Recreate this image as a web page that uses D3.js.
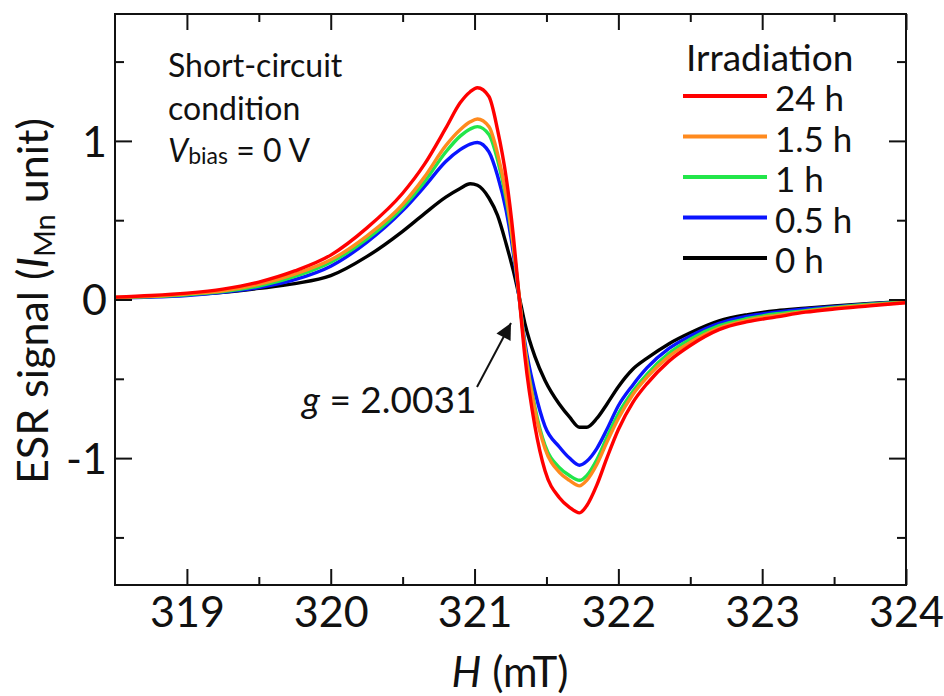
<!DOCTYPE html>
<html>
<head>
<meta charset="utf-8">
<script src="https://cdn.jsdelivr.net/npm/d3@7"></script>
<style>
  html, body { margin: 0; padding: 0; background: #fff; }
  svg { display: block; }
  text { font-family: Lato, "Open Sans", sans-serif; fill: #111; }
</style>
</head>
<body>
<svg id="chart" width="944" height="696"></svg>
<script>
// ---- data ----
const fieldH = [318.5, 318.75, 319.0, 319.25, 319.5, 319.75, 320.0, 320.25, 320.5, 320.65,
                320.8, 320.9, 320.97, 321.02, 321.1, 321.16, 321.22, 321.27, 321.31, 321.35,
                321.42, 321.49, 321.59, 321.66, 321.73, 321.78, 321.85, 321.92, 322.0, 322.1,
                322.2, 322.35, 322.5, 322.7, 322.9, 323.1, 323.3, 323.5, 323.75, 324.0];

const sig24h = [0.015, 0.025, 0.04, 0.065, 0.11, 0.18, 0.28, 0.45, 0.67, 0.85,
                1.08, 1.24, 1.31, 1.335, 1.28, 1.07, 0.77, 0.40, 0.02, -0.36,
                -0.80, -1.08, -1.25, -1.31, -1.345, -1.30, -1.17, -1.00, -0.82, -0.65,
                -0.53, -0.39, -0.29, -0.19, -0.14, -0.11, -0.08, -0.06, -0.04, -0.02];

const sig15h = [0.015, 0.02, 0.035, 0.055, 0.095, 0.16, 0.25, 0.40, 0.60, 0.77,
                0.97, 1.07, 1.12, 1.138, 1.09, 0.92, 0.66, 0.34, 0.02, -0.31,
                -0.70, -0.94, -1.09, -1.14, -1.175, -1.14, -1.04, -0.90, -0.75, -0.60,
                -0.49, -0.36, -0.27, -0.18, -0.13, -0.10, -0.075, -0.055, -0.035, -0.018];

const sig1h  = [0.012, 0.018, 0.03, 0.05, 0.085, 0.145, 0.235, 0.38, 0.58, 0.74,
                0.93, 1.03, 1.075, 1.09, 1.04, 0.88, 0.63, 0.33, 0.02, -0.30,
                -0.68, -0.92, -1.06, -1.11, -1.14, -1.11, -1.01, -0.87, -0.72, -0.58,
                -0.47, -0.34, -0.25, -0.165, -0.12, -0.09, -0.07, -0.05, -0.03, -0.015];

const sig05h = [0.01, 0.015, 0.025, 0.045, 0.075, 0.125, 0.21, 0.36, 0.56, 0.71,
                0.87, 0.945, 0.98, 0.99, 0.93, 0.78, 0.56, 0.29, 0.01, -0.27,
                -0.58, -0.80, -0.93, -1.00, -1.045, -1.02, -0.94, -0.82, -0.67, -0.54,
                -0.43, -0.31, -0.23, -0.15, -0.105, -0.08, -0.06, -0.045, -0.028, -0.013];

const sig0h  = [0.01, 0.018, 0.03, 0.045, 0.07, 0.10, 0.15, 0.27, 0.43, 0.54,
                0.645, 0.70, 0.73, 0.72, 0.64, 0.53, 0.35, 0.18, 0.02, -0.15,
                -0.36, -0.51, -0.66, -0.74, -0.805, -0.805, -0.75, -0.66, -0.55, -0.44,
                -0.37, -0.28, -0.21, -0.135, -0.095, -0.07, -0.055, -0.04, -0.025, -0.012];

const seriesNames  = ["24 h", "1.5 h", "1 h", "0.5 h", "0 h"];
const seriesValues = [sig24h, sig15h, sig1h, sig05h, sig0h];
const seriesColors = ["#ff0000", "#ff8a1e", "#22e64a", "#0a14ff", "#000000"];

const xMajorTicks = [319, 320, 321, 322, 323, 324];
const xMinorTicks = [319.5, 320.5, 321.5, 322.5, 323.5];
const yMajorTicks = [-1, 0, 1];
const yMinorTicks = [-1.5, -0.5, 0.5, 1.5];

// ---- layout ----
const svg = d3.select("#chart");
const L = 115, R = 906, T = 14, B = 585;

const x = d3.scaleLinear().domain([318.5, 324]).range([L, R]);
const y = d3.scaleLinear().domain([-1.8, 1.8]).range([B, T]);

svg.append("defs").append("clipPath").attr("id", "plotclip")
  .append("rect").attr("x", L).attr("y", T).attr("width", R - L).attr("height", B - T);

// curves (black first, red on top)
const line = d3.line().curve(d3.curveMonotoneX);
const curves = svg.append("g").attr("clip-path", "url(#plotclip)");
for (let i = seriesValues.length - 1; i >= 0; i--) {
  const pts = fieldH.map((h, k) => [x(h), y(seriesValues[i][k])]);
  curves.append("path")
    .attr("d", line(pts))
    .attr("fill", "none")
    .attr("stroke", seriesColors[i])
    .attr("stroke-width", 3.4)
    .attr("stroke-linejoin", "round");
}

// axes
function styleAxis(g) {
  g.select(".domain").remove();
  g.selectAll(".tick line").attr("stroke", "#111").attr("stroke-width", 2);
}
const fs = 43;
svg.append("g").attr("transform", `translate(0,${B})`)
  .call(d3.axisBottom(x).tickValues(xMajorTicks).tickSize(-16).tickPadding(11).tickFormat(d3.format("d")))
  .call(styleAxis)
  .call(g => g.selectAll("text").style("font-size", fs + "px").attr("fill", "#111"));
svg.append("g").attr("transform", `translate(0,${B})`)
  .call(d3.axisBottom(x).tickValues(xMinorTicks).tickSize(-8).tickFormat(""))
  .call(styleAxis);
svg.append("g").attr("transform", `translate(0,${T})`)
  .call(d3.axisTop(x).tickValues(xMajorTicks).tickSize(-16).tickFormat(""))
  .call(styleAxis);
svg.append("g").attr("transform", `translate(0,${T})`)
  .call(d3.axisTop(x).tickValues(xMinorTicks).tickSize(-8).tickFormat(""))
  .call(styleAxis);

svg.append("g").attr("transform", `translate(${L},0)`)
  .call(d3.axisLeft(y).tickValues(yMajorTicks).tickSize(-17).tickPadding(8).tickFormat(d => String(d)))
  .call(styleAxis)
  .call(g => g.selectAll("text").style("font-size", fs + "px").attr("fill", "#111").attr("dy", "0.36em"));
svg.append("g").attr("transform", `translate(${L},0)`)
  .call(d3.axisLeft(y).tickValues(yMinorTicks).tickSize(-9).tickFormat(""))
  .call(styleAxis);
svg.append("g").attr("transform", `translate(${R},0)`)
  .call(d3.axisRight(y).tickValues(yMajorTicks).tickSize(-17).tickFormat(""))
  .call(styleAxis);
svg.append("g").attr("transform", `translate(${R},0)`)
  .call(d3.axisRight(y).tickValues(yMinorTicks).tickSize(-9).tickFormat(""))
  .call(styleAxis);

// frame
svg.append("rect").attr("x", L).attr("y", T).attr("width", R - L).attr("height", B - T)
  .attr("fill", "none").attr("stroke", "#111").attr("stroke-width", 2);

// axis titles
const xt = svg.append("text").attr("x", 510).attr("y", 687).attr("text-anchor", "middle")
  .style("font-size", "42px");
xt.append("tspan").style("font-style", "italic").text("H");
xt.append("tspan").text(" (mT)");

const yt = svg.append("text").attr("transform", "translate(48,301) rotate(-90)")
  .attr("text-anchor", "middle").style("font-size", "43px");
yt.append("tspan").text("ESR signal (");
yt.append("tspan").style("font-style", "italic").text("I");
yt.append("tspan").style("font-size", "29px").attr("dy", 7).text("Mn");
yt.append("tspan").attr("dy", -7).text(" unit)");

// condition text
const cond = svg.append("g").style("font-size", "32px");
cond.append("text").attr("x", 168).attr("y", 77).text("Short-circuit");
cond.append("text").attr("x", 168).attr("y", 120).text("condition");
const vb = cond.append("text").attr("x", 168).attr("y", 162);
vb.append("tspan").style("font-style", "italic").text("V");
vb.append("tspan").style("font-size", "23px").attr("dy", 2).text("bias");
vb.append("tspan").attr("dy", -2).text(" = 0 V");

// legend
const leg = svg.append("g");
leg.append("text").attr("x", 686).attr("y", 71).style("font-size", "37px").text("Irradiation");
const legY0 = 96, legDy = 40.5;
seriesNames.forEach((name, i) => {
  const yy = legY0 + i * legDy;
  leg.append("line").attr("x1", 683).attr("x2", 767).attr("y1", yy).attr("y2", yy)
    .attr("stroke", seriesColors[i]).attr("stroke-width", 4);
  leg.append("text").attr("x", 775).attr("y", yy + 15).style("font-size", "35px").text(name);
});

// g-factor annotation
const ga = svg.append("text").attr("x", 302).attr("y", 413).style("font-size", "37px");
ga.append("tspan").style("font-style", "italic").text("g");
ga.append("tspan").text(" = 2.0031");

svg.append("defs").append("marker").attr("id", "ah")
  .attr("viewBox", "0 0 10 10").attr("refX", 10).attr("refY", 5)
  .attr("markerUnits", "userSpaceOnUse").attr("markerWidth", 26).attr("markerHeight", 16)
  .attr("orient", "auto")
  .append("path").attr("d", "M0,0 L10,5 L0,10 Z").attr("fill", "#111");
svg.append("line").attr("x1", 477).attr("y1", 387).attr("x2", 511).attr("y2", 323)
  .attr("stroke", "#111").attr("stroke-width", 2).attr("marker-end", "url(#ah)");
</script>
</body>
</html>
